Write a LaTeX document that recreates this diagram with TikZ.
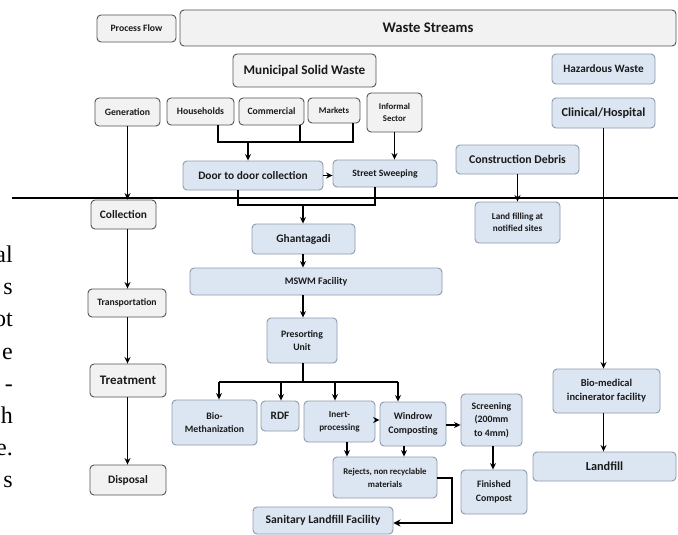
\documentclass[tikz,border=0pt]{standalone}
\usepackage{fontspec}
\setmainfont{Carlito}
\newfontfamily\marginfont{Liberation Serif}
\usetikzlibrary{arrows.meta}
\definecolor{gfill}{HTML}{F2F2F2}
\definecolor{gborder}{HTML}{555555}
\definecolor{bfill}{HTML}{DCE6F2}
\definecolor{bborder}{HTML}{8E9AAD}
\definecolor{txt}{HTML}{1A1A1A}
\begin{document}
\begin{tikzpicture}[x=1pt,y=-1pt,
  base/.style={rounded corners=4pt, line width=0.9pt, inner sep=0pt, align=center, text=txt, execute at begin node=\bfseries},
  gbox/.style={base, draw=gborder, fill=gfill},
  bbox/.style={base, draw=bborder, fill=bfill},
  sz/.style 2 args={minimum width=#1pt, minimum height=#2pt},
  arr/.style={-{Stealth[length=6.5pt,width=6pt]}, line width=1.3pt, black},
  fat/.style={line width=2.4pt, black},
  mtext/.style={anchor=base east, inner sep=0pt, font=\marginfont\fontsize{24}{24}\selectfont}
]
\useasboundingbox (0,0) rectangle (678,535);
\fill[white] (0,0) rectangle (678,535);

% divider line
\coordinate (dl) at (12,198);
\coordinate (dr) at (678,198);
\draw[fat] (dl) -- (dr);

% margin text
\node[mtext] (m1) at (13,262) {al};
\node[mtext] (m2) at (13,294) {s};
\node[mtext] (m3) at (13,326) {ot};
\node[mtext] (m4) at (13,359) {e};
\node[mtext] (m5) at (13,391) {-};
\node[mtext] (m6) at (13,423) {h};
\node[mtext] (m7) at (13,455) {e.};
\node[mtext] (m8) at (13,487) {s};

% top row
\node[gbox, sz={79}{27}, font=\fontsize{9.7}{12}\selectfont] (pf) at (136.5,28.5) {Process Flow};
\node[gbox, sz={496}{36}, font=\fontsize{14.7}{18}\selectfont] (ws) at (428,28) {Waste Streams};
\node[gbox, sz={143}{33}, font=\fontsize{13.2}{16}\selectfont] (msw) at (304.5,70.5) {Municipal Solid Waste};
\node[bbox, sz={103}{30}, font=\fontsize{11.2}{14}\selectfont] (haz) at (603.5,69) {Hazardous Waste};
\node[bbox, sz={103}{30}, font=\fontsize{12.3}{15}\selectfont] (clin) at (603.5,113) {Clinical/Hospital};

% generation row
\node[gbox, sz={65}{28}, font=\fontsize{9.7}{12}\selectfont] (gen) at (127.5,112) {Generation};
\node[gbox, sz={67}{27}, font=\fontsize{9.7}{12}\selectfont] (hh) at (200.5,111.5) {Households};
\node[gbox, sz={65}{27}, font=\fontsize{9.7}{12}\selectfont] (com) at (271.5,111.5) {Commercial};
\node[gbox, sz={52}{25}, font=\fontsize{8.8}{11}\selectfont] (mkt) at (334,110.5) {Markets};
\node[gbox, sz={55}{39}, font=\fontsize{8.8}{12}\selectfont] (inf) at (394.5,112.5) {Informal\\Sector};

\node[bbox, sz={140}{29}, font=\fontsize{11.4}{14}\selectfont] (door) at (253,175.5) {Door to door collection};
\node[bbox, sz={104}{27}, font=\fontsize{9.7}{12}\selectfont] (street) at (385,173.5) {Street Sweeping};
\node[bbox, sz={123}{29}, font=\fontsize{11.8}{14}\selectfont] (cd) at (517.5,159.5) {Construction Debris};

% collection row
\node[gbox, sz={65}{29}, font=\fontsize{11.4}{14}\selectfont] (coll) at (123.5,214.5) {Collection};
\node[bbox, sz={103}{30}, font=\fontsize{11.4}{14}\selectfont] (gh) at (303.5,239) {Ghantagadi};
\node[bbox, sz={85}{41}, font=\fontsize{9.2}{12.5}\selectfont] (lf) at (517.5,222.5) {Land filling at\\notified sites};

\node[gbox, sz={78}{28}, font=\fontsize{9.7}{12}\selectfont] (trans) at (127,303) {Transportation};
\node[gbox, sz={76}{33}, font=\fontsize{13}{16}\selectfont] (treat) at (128,380.5) {Treatment};
\node[gbox, sz={76}{30}, font=\fontsize{11.4}{14}\selectfont] (disp) at (128,480) {Disposal};

\node[bbox, sz={252}{27}, font=\fontsize{10}{12}\selectfont] (mswm) at (316,281.5) {MSWM Facility};
\node[bbox, sz={70}{45}, font=\fontsize{9.8}{13.5}\selectfont] (pre) at (302,340.5) {Presorting\\Unit};

\node[bbox, sz={85}{45}, font=\fontsize{9.8}{13.5}\selectfont] (bm) at (214.5,422.5) {Bio-\\Methanization};
\node[bbox, sz={38}{30}, font=\fontsize{11.3}{14}\selectfont] (rdf) at (280,416) {RDF};
\node[bbox, sz={71}{41}, font=\fontsize{9.2}{13}\selectfont] (inert) at (339.5,421.5) {Inert-\\processing};
\node[bbox, sz={66}{44}, font=\fontsize{10}{14}\selectfont] (wc) at (413,424) {Windrow\\Composting};
\node[bbox, sz={61}{52}, font=\fontsize{9.8}{13.5}\selectfont] (scr) at (491.5,420) {Screening\\(200mm\\to 4mm)};
\node[bbox, sz={66}{44}, font=\fontsize{9.8}{14}\selectfont] (fc) at (494,492) {Finished\\Compost};
\node[bbox, sz={104}{41}, font=\fontsize{8.8}{13}\selectfont] (rej) at (385,477.5) {Rejects, non recyclable\\materials};
\node[bbox, sz={140}{27}, font=\fontsize{11.7}{14}\selectfont] (san) at (323,520.5) {Sanitary Landfill Facility};

\node[bbox, sz={107}{44}, font=\fontsize{10.5}{14}\selectfont] (bio) at (606.5,391) {Bio-medical\\incinerator facility};
\node[bbox, sz={143}{29}, font=\fontsize{12.3}{15}\selectfont] (land) at (604.5,466.5) {Landfill};

% ---- connectors ----
% households bracket
\coordinate (b1) at (218,142);
\coordinate (b2) at (300,142);
\coordinate (b3) at (353,142);
\coordinate (b4) at (248,142);
\draw[fat] (hh.south -| b1) -- (b1) -- (b3) -- (mkt.south -| b3);
\draw[fat] (com.south -| b2) -- (b2);
\draw[arr] (b4) -- (b4 |- door.north);
\draw[arr] (inf.south) -- (inf.south |- street.north);
\draw[arr] (door.east) -- (door.east -| street.west);

% door/street bracket
\coordinate (c1) at (238,205);
\coordinate (c2) at (375,205);
\coordinate (c3) at (303,205);
\draw[fat] (door.south -| c1) -- (c1) -- (c2) -- (street.south -| c2);
\draw[arr] (c3) -- (c3 |- gh.north);

% left column
\coordinate (lc) at (127.5,0);
\draw[arr] (gen.south) -- (lc |- coll.north);
\draw[arr] (lc |- coll.south) -- (lc |- trans.north);
\draw[arr] (lc |- trans.south) -- (lc |- treat.north);
\draw[arr] (lc |- treat.south) -- (lc |- disp.north);

% construction
\draw[arr] (cd.south) -- (cd.south |- lf.north);

% hazardous
\coordinate (hc) at (603.5,0);
\draw[arr] (clin.south) -- (hc |- bio.north);
\draw[arr] (hc |- bio.south) -- (hc |- land.north);

% MSW
\coordinate (mc) at (303,0);
\draw[arr] (mc |- gh.south) -- (mc |- mswm.north);
\draw[arr] (mc |- mswm.south) -- (mc |- pre.north);

% presorting bracket
\coordinate (p0) at (303,382);
\coordinate (p1) at (219,382);
\coordinate (p2) at (281,382);
\coordinate (p3) at (335,382);
\coordinate (p4) at (398,382);
\draw[fat] (mc |- pre.south) -- (p0);
\draw[fat] (p1) -- (p4);
\draw[arr] (p1) -- (p1 |- bm.north);
\draw[arr] (p2) -- (p2 |- rdf.north);
\draw[arr] (p3) -- (p3 |- inert.north);
\draw[arr] (p4) -- (p4 |- wc.north);

\coordinate (r1) at (0,420);
\draw[arr] (r1 -| inert.east) -- (r1 -| wc.west);
\coordinate (r2) at (0,425);
\draw[arr] (r2 -| wc.east) -- (r2 -| scr.west);
\coordinate (r3) at (493,0);
\draw[arr] (r3 |- scr.south) -- (r3 |- fc.north);
\coordinate (r4) at (347,0);
\coordinate (r5) at (404,0);
\draw[arr] (r4 |- inert.south) -- (r4 |- rej.north);
\draw[arr] (r5 |- wc.south) -- (r5 |- rej.north);

% rejects to sanitary
\coordinate (s1) at (452,478);
\coordinate (s2) at (452,523);
\draw[fat, -{Stealth[length=7pt,width=7pt]}] (rej.east |- s1) -- (s1) -- (s2) -- (s2 -| san.east);
\end{tikzpicture}
\end{document}
